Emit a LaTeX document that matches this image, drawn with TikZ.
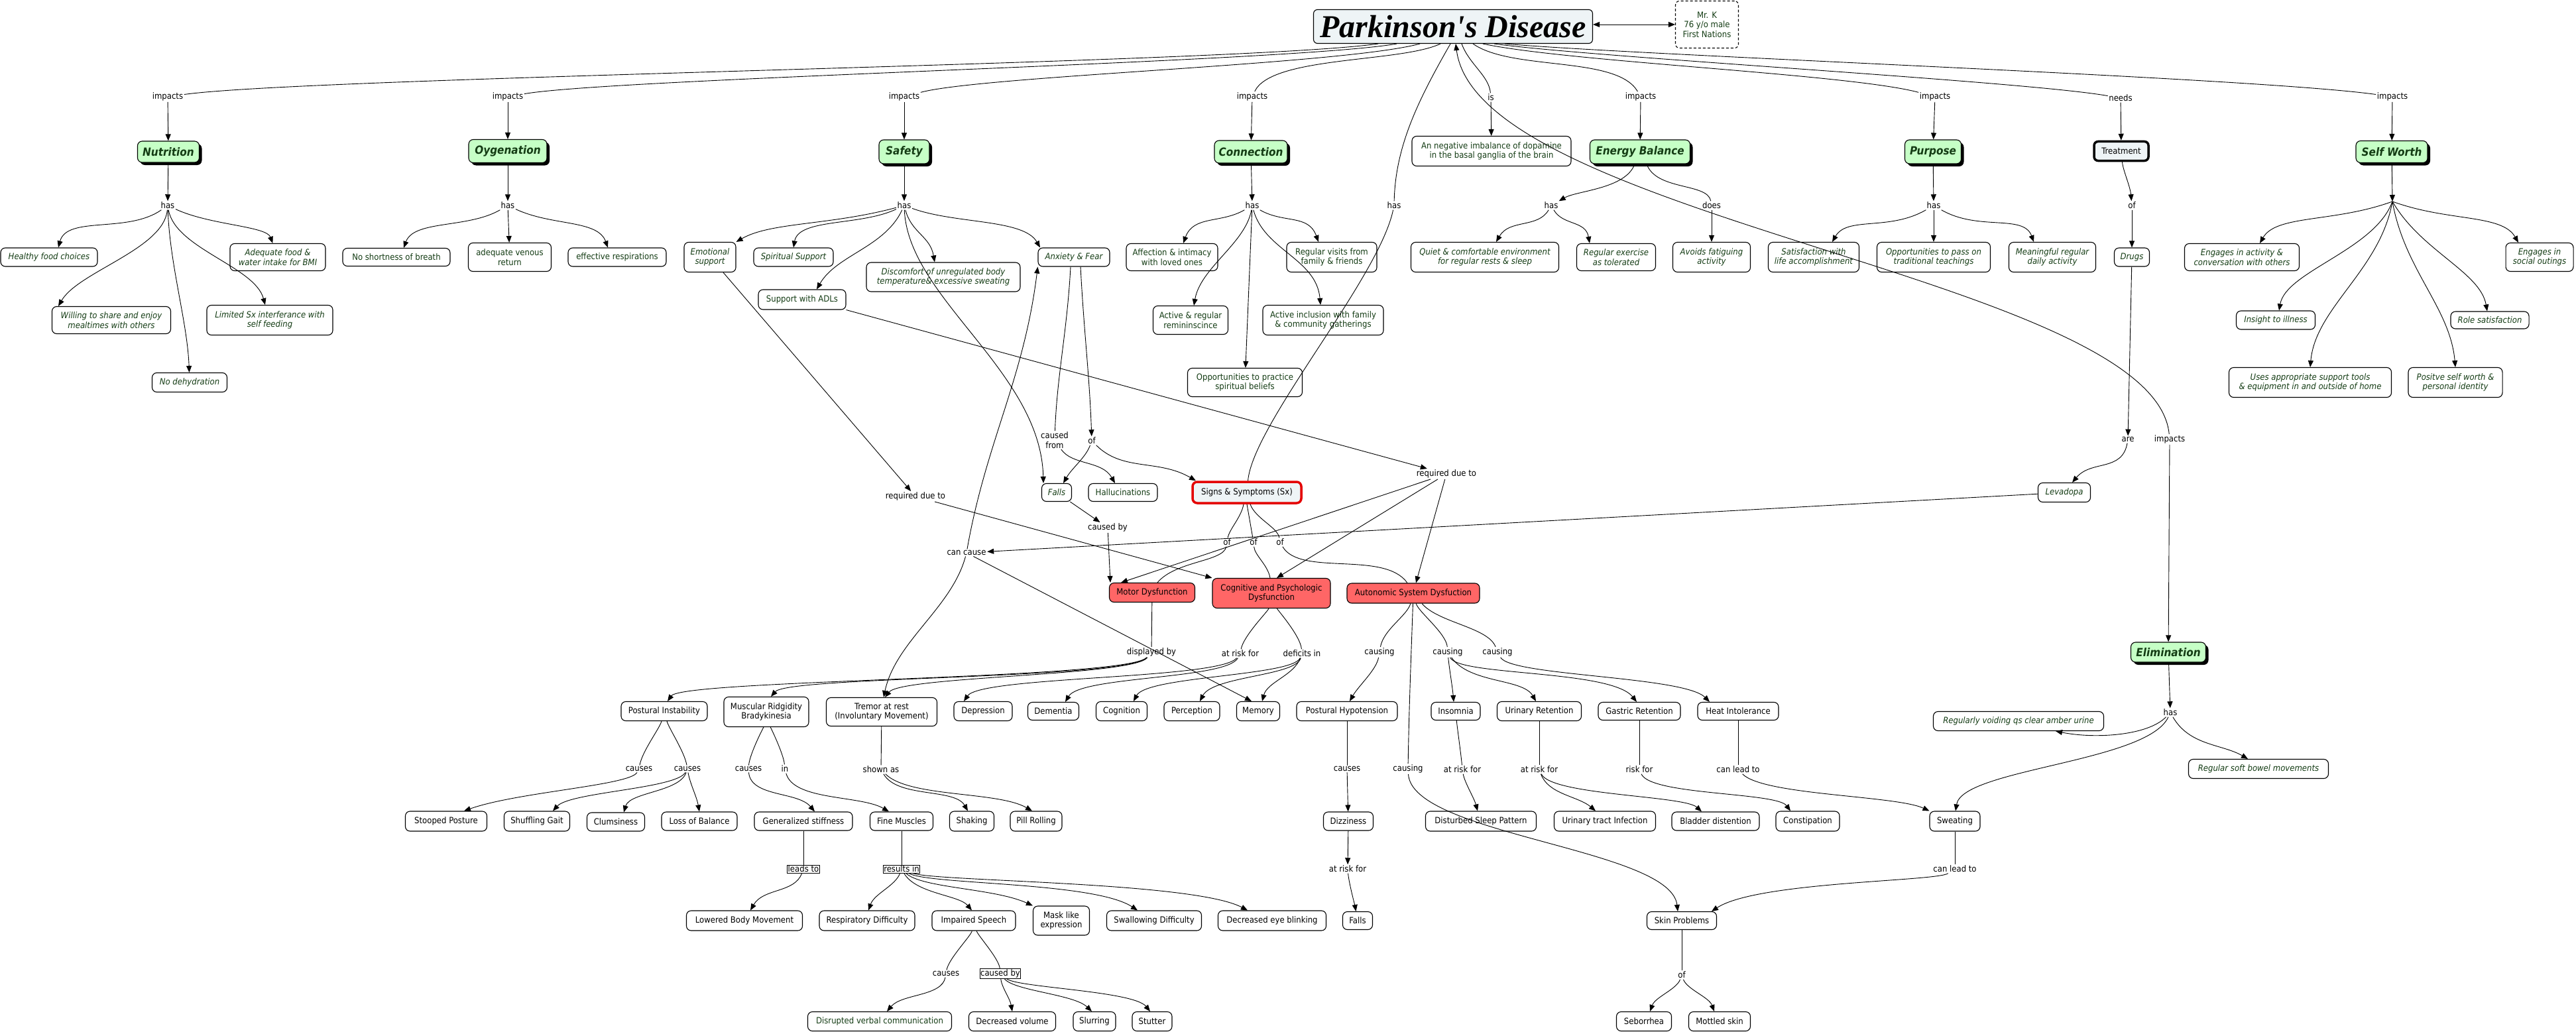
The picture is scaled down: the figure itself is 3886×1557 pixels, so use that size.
\documentclass[tikz,border=0pt]{standalone}
\usepackage{fontspec}
\IfFontExistsTF{DejaVu Sans Condensed}{\setmainfont{DejaVu Sans Condensed}[ItalicFont={DejaVu Sans Condensed Oblique},BoldFont={DejaVu Sans Condensed Bold},BoldItalicFont={DejaVu Sans Condensed Bold Oblique}]}{\setmainfont{DejaVu Sans}[FakeStretch=0.9]}
\newfontfamily\titlefont{Liberation Serif}
\usetikzlibrary{arrows.meta,shadows}
\definecolor{dkg}{RGB}{20,60,20}
\definecolor{catg}{RGB}{198,255,198}
\definecolor{pdfill}{RGB}{238,244,246}
\definecolor{dysf}{RGB}{255,102,102}
\definecolor{sxred}{RGB}{228,0,0}
\newcommand\fs{\fontsize{13pt}{14.5pt}\selectfont}
\newcommand\fcat{\fontsize{17pt}{19pt}\selectfont\bfseries\itshape}
\tikzset{
 sz/.style 2 args={minimum width=#1pt, minimum height=#2pt},
 base/.style={draw, rounded corners=7pt, line width=1.1pt, fill=white, align=center, inner sep=2pt, font=\fs},
 cg/.style={base, text=dkg},
 ci/.style={base, text=dkg, font=\fs\itshape},
 ck/.style={base, text=black},
 dys/.style={base, fill=dysf, text=black},
 cat/.style={draw, rounded corners=7pt, line width=1.1pt, fill=catg, text=dkg, font=\fcat, inner sep=2pt,
   general shadow={fill=black, shadow xshift=4pt, shadow yshift=-4pt}},
 lbl/.style={fill=white, inner sep=1.5pt, font=\fs, text=black, align=center},
 blbl/.style={lbl, draw, line width=0.9pt, inner sep=1pt},
 ln/.style={line width=0.9pt},
 arr/.style={ln, -{Triangle[length=10pt,width=8pt]}},
}
\begin{document}
\begin{tikzpicture}[x=1pt,y=-1pt]
\useasboundingbox (0,0) rectangle (3886,1557);
% ---------- title
\node[draw, rounded corners=6pt, line width=1.1pt, fill=pdfill, sz={421}{51}, inner sep=0pt] (PD) at (2192,40)
  {\titlefont\fontsize{48pt}{50pt}\selectfont\bfseries\itshape Parkinson's Disease};
\node[draw, dash pattern=on 4pt off 3pt, rounded corners=6pt, line width=1.1pt, sz={95}{71}, align=center, font=\fs, text=dkg] (mrk) at (2575,37) {Mr. K\\76 y/o male\\First Nations};
% ---------- categories
\node[cat, sz={93}{32}] (nut) at (254,229) {Nutrition};
\node[cat, sz={118}{35}] (oxy) at (766,228) {Oygenation};
\node[cat, sz={76}{36}] (saf) at (1364,229) {Safety};
\node[cat, sz={110}{34}] (con) at (1887,229) {Connection};
\node[cat, sz={151}{36}] (eng) at (2474,229) {Energy Balance};
\node[cat, sz={85}{36}] (pur) at (2916,229) {Purpose};
\node[cat, sz={108}{33}] (sw) at (3608,229) {Self Worth};
\node[cat, sz={113}{30}] (eli) at (3271,984) {Elimination};
\node[draw, rounded corners=6pt, line width=3.5pt, fill=pdfill, sz={82}{29}, font=\fs] (trt) at (3200,228) {Treatment};
\node[cg,sz={240}{45}] (imb) at (2250,228) {An negative imbalance of dopamine\\in the basal ganglia of the brain};
% ---------- row 388 etc
\node[ci,sz={146}{28}] (hfc) at (74,388) {Healthy food choices};
\node[ci,sz={144}{41}] (adq) at (419,388) {Adequate food \&\\water intake for BMI};
\node[ci,sz={179}{41}] (wil) at (168,483) {Willing to share and enjoy\\mealtimes with others};
\node[ci,sz={190}{45}] (lim) at (407,483) {Limited Sx interferance with\\self feeding};
\node[ci,sz={113}{29}] (noh) at (286,577) {No dehydration};
\node[cg,sz={162}{27}] (nsb) at (598,388) {No shortness of breath};
\node[cg,sz={125}{43}] (avr) at (769,388) {adequate venous\\return};
\node[cg,sz={148}{28}] (eff) at (931,388) {effective respirations};
\node[ci,sz={78}{45}] (emo) at (1071,388) {Emotional\\support};
\node[ci,sz={120}{28}] (spi) at (1197,388) {Spiritual Support};
\node[ci,sz={232}{44}] (dis) at (1423,418) {Discomfort of unregulated body\\temperature\& excessive sweating};
\node[cg,sz={132}{30}] (adl) at (1210,452) {Support with ADLs};
\node[ci,sz={108}{28}] (anx) at (1620,388) {Anxiety \& Fear};
\node[cg,sz={138}{41}] (aff) at (1768,388) {Affection \& intimacy\\with loved ones};
\node[cg,sz={113}{43}] (rem) at (1796,483) {Active \& regular\\remininscince};
\node[cg,sz={182}{45}] (inc) at (1996,483) {Active inclusion with family\\\& community gatherings};
\node[cg,sz={136}{45}] (vis) at (2009,388) {Regular visits from\\family \& friends};
\node[cg,sz={173}{43}] (opp) at (1878,577) {Opportunities to practice\\spiritual beliefs};
\node[ci,sz={223}{45}] (qui) at (2240,388) {Quiet \& comfortable environment\\for regular rests \& sleep};
\node[ci,sz={119}{41}] (rex) at (2438,388) {Regular exercise\\as tolerated};
\node[ci,sz={117}{45}] (avo) at (2582,388) {Avoids fatiguing\\activity};
\node[ci,sz={137}{45}] (sat) at (2736,388) {Satisfaction with\\life accomplishment};
\node[ci,sz={171}{45}] (tra) at (2917,388) {Opportunities to pass on\\traditional teachings};
\node[ci,sz={131}{45}] (mea) at (3096,388) {Meaningful regular\\daily activity};
\node[ci,sz={53}{28}] (drg) at (3216,388) {Drugs};
\node[ci,sz={173}{41}] (eac) at (3382,388) {Engages in activity \&\\conversation with others};
\node[ci,sz={102}{43}] (eso) at (3831,388) {Engages in\\social outings};
\node[ci,sz={119}{28}] (ins) at (3433,483) {Insight to illness};
\node[ci,sz={118}{26}] (rol) at (3756,483) {Role satisfaction};
\node[ci,sz={245}{45}] (use) at (3485,577) {Uses appropriate support tools\\\& equipment in and outside of home};
\node[ci,sz={142}{45}] (pos) at (3704,577) {Positve self worth \&\\personal identity};
% ---------- middle
\node[ci,sz={45}{27}] (fal1) at (1594,743) {Falls};
\node[cg,sz={104}{27}] (hal) at (1694,743) {Hallucinations};
\node[base, draw=sxred, line width=3.5pt, fill=pdfill, sz={164}{32}] (sx) at (1881,743) {Signs \& Symptoms (Sx)};
\node[ci,sz={79}{29}] (lev) at (3114,743) {Levadopa};
\node[dys,sz={129}{29}] (mot) at (1738,894) {Motor Dysfunction};
\node[dys,sz={178}{45}] (cog) at (1918,895) {Cognitive and Psychologic\\Dysfunction};
\node[dys,sz={200}{30}] (aut) at (2132,895) {Autonomic System Dysfuction};
% ---------- row 1073
\node[ck,sz={130}{29}] (pin) at (1002,1073) {Postural Instability};
\node[ck,sz={128}{45}] (mus) at (1156,1074) {Muscular Ridgidity\\Bradykinesia};
\node[ck,sz={167}{43}] (tre) at (1330,1074) {Tremor at rest\\(Involuntary Movement)};
\node[ck,sz={88}{29}] (dep) at (1483,1073) {Depression};
\node[ck,sz={77}{27}] (dem) at (1589,1073) {Dementia};
\node[ck,sz={77}{29}] (cgn) at (1692,1073) {Cognition};
\node[ck,sz={84}{29}] (per) at (1798,1073) {Perception};
\node[ck,sz={65}{29}] (mem) at (1898,1073) {Memory};
\node[ck,sz={152}{29}] (phy) at (2032,1073) {Postural Hypotension};
\node[ck,sz={74}{27}] (inso) at (2196,1073) {Insomnia};
\node[ck,sz={127}{29}] (uri) at (2322,1073) {Urinary Retention};
\node[ck,sz={124}{27}] (gas) at (2473,1073) {Gastric Retention};
\node[ck,sz={122}{27}] (hea) at (2622,1073) {Heat Intolerance};
% ---------- row 1239
\node[ck,sz={123}{30}] (stp) at (673,1239) {Stooped Posture};
\node[ck,sz={99}{30}] (shu) at (810,1239) {Shuffling Gait};
\node[ck,sz={87}{28}] (clu) at (929,1240) {Clumsiness};
\node[ck,sz={114}{28}] (lob) at (1055,1239) {Loss of Balance};
\node[ck,sz={148}{28}] (gen) at (1212,1239) {Generalized stiffness};
\node[ck,sz={95}{28}] (fin) at (1360,1239) {Fine Muscles};
\node[ck,sz={67}{30}] (shk) at (1466,1239) {Shaking};
\node[ck,sz={78}{30}] (pil) at (1563,1239) {Pill Rolling};
\node[ck,sz={75}{28}] (diz) at (2034,1239) {Dizziness};
\node[ck,sz={167}{30}] (dsp) at (2234,1239) {Disturbed Sleep Pattern};
\node[ck,sz={153}{30}] (uti) at (2421,1239) {Urinary tract Infection};
\node[ck,sz={132}{28}] (bla) at (2588,1239) {Bladder distention};
\node[ck,sz={96}{30}] (cst) at (2727,1239) {Constipation};
\node[ck,sz={76}{30}] (swe) at (2949,1239) {Sweating};
\node[ci,sz={257}{29}] (rvu) at (3045,1088) {Regularly voiding qs clear amber urine};
\node[ci,sz={211}{29}] (rsb) at (3407,1160) {Regular soft bowel movements};
% ---------- row 1389
\node[ck,sz={175}{30}] (low) at (1123,1389) {Lowered Body Movement};
\node[ck,sz={144}{30}] (res) at (1308,1389) {Respiratory Difficulty};
\node[ck,sz={126}{30}] (imp) at (1469,1389) {Impaired Speech};
\node[ck,sz={85}{44}] (mas) at (1601,1389) {Mask like\\expression};
\node[ck,sz={143}{30}] (swa) at (1741,1389) {Swallowing Difficulty};
\node[ck,sz={163}{30}] (dec) at (1919,1389) {Decreased eye blinking};
\node[ck,sz={45}{27}] (fal2) at (2048,1389) {Falls};
\node[ck,sz={105}{27}] (skn) at (2537,1389) {Skin Problems};
% ---------- row 1541
\node[cg,sz={217}{29}] (dvc) at (1327,1541) {Disrupted verbal communication};
\node[ck,sz={131}{29}] (dvo) at (1527,1541) {Decreased volume};
\node[ck,sz={64}{29}] (slu) at (1651,1541) {Slurring};
\node[ck,sz={60}{29}] (stu) at (1738,1541) {Stutter};
\node[ck,sz={83}{29}] (seb) at (2480,1541) {Seborrhea};
\node[ck,sz={93}{29}] (mtl) at (2594,1541) {Mottled skin};
% ---------- link labels
\node[lbl] (lNut) at (253,146) {impacts};
\node[lbl] (lOxy) at (766,146) {impacts};
\node[lbl] (lSaf) at (1364,146) {impacts};
\node[lbl] (lCon) at (1889,146) {impacts};
\node[lbl] (lIs) at (2249,147) {is};
\node[lbl] (lEng) at (2475,146) {impacts};
\node[lbl] (lPur) at (2919,146) {impacts};
\node[lbl] (lNeeds) at (3199,148) {needs};
\node[lbl] (lSw) at (3609,146) {impacts};
\node[lbl] (hNut) at (253,310) {has};
\node[lbl] (hOxy) at (766,310) {has};
\node[lbl] (hSaf) at (1364,310) {has};
\node[lbl] (hCon) at (1889,310) {has};
\node[lbl] (hSx) at (2103,310) {has};
\node[lbl] (hEng) at (2340,310) {has};
\node[lbl] (dEng) at (2582,310) {does};
\node[lbl] (hPur) at (2917,310) {has};
\node[lbl] (oTrt) at (3216,310) {of};
\coordinate (eSw) at (3609,304);
\node[lbl] (lAre) at (3210,663) {are};
\node[lbl] (lEli) at (3273,663) {impacts};
\node[lbl] (cfrom) at (1591,664) {caused\\from};
\node[lbl] (ofA) at (1647,665) {of};
\node[lbl] (rq1) at (1381,749) {required due to};
\node[lbl] (rq2) at (2182,715) {required due to};
\node[lbl] (cby) at (1671,796) {caused by};
\node[lbl] (ccause) at (1458,834) {can cause};
\node[lbl] (of1) at (1851,818) {of};
\node[lbl] (of2) at (1891,818) {of};
\node[lbl] (of3) at (1931,818) {of};
\node[lbl] (dby) at (1737,984) {displayed by};
\node[lbl] (ark) at (1871,986) {at risk for};
\node[lbl] (dfi) at (1964,986) {deficits in};
\node[lbl] (cs1) at (2081,984) {causing};
\node[lbl] (cs2) at (2184,984) {causing};
\node[lbl] (cs3) at (2259,984) {causing};
\node[lbl] (ca1) at (964,1160) {causes};
\node[lbl] (ca2) at (1037,1160) {causes};
\node[lbl] (ca3) at (1129,1160) {causes};
\node[lbl] (lIn) at (1184,1160) {in};
\node[lbl] (sha) at (1329,1161) {shown as};
\node[lbl] (ca4) at (2032,1160) {causes};
\node[lbl] (cs4) at (2124,1160) {causing};
\node[lbl] (ar1) at (2206,1161) {at risk for};
\node[lbl] (ar2) at (2322,1161) {at risk for};
\node[lbl] (rf) at (2473,1161) {risk for};
\node[lbl] (clt) at (2622,1161) {can lead to};
\node[lbl] (hEli) at (3274,1075) {has};
\node[blbl] (lt) at (1212,1311) {leads to};
\node[blbl] (ri) at (1360,1311) {results in};
\node[lbl] (ar3) at (2033,1311) {at risk for};
\node[lbl] (clt2) at (2949,1311) {can lead to};
\node[lbl] (ca5) at (1427,1469) {causes};
\node[blbl] (cb2) at (1509,1469) {caused by};
\node[lbl] (ofS) at (2537,1471) {of};
% ================= connectors
% from the title
\draw[ln] ([xshift=-113]PD.south) .. controls +(188:215pt) and +(8:215pt) .. (lNut);
\draw[ln] ([xshift=-85]PD.south) .. controls +(190:160pt) and +(10:160pt) .. (lOxy);
\draw[ln] ([xshift=-50]PD.south) .. controls +(195:122pt) and +(15:122pt) .. (lSaf);
\draw[ln] ([xshift=-19]PD.south) .. controls +(205:68pt) and +(65:68pt) .. (lCon);
\draw[ln] ([xshift=13]PD.south) .. controls +(-70:33pt) and +(95:33pt) .. (lIs);
\draw[ln] ([xshift=30]PD.south) .. controls +(-35:72pt) and +(120:72pt) .. (lEng);
\draw[ln] ([xshift=45]PD.south) .. controls +(-12:133pt) and +(165:133pt) .. (lPur);
\draw[ln] ([xshift=62]PD.south) .. controls +(-8:147pt) and +(170:147pt) .. (lNeeds);
\draw[ln] ([xshift=78]PD.south) .. controls +(-5:207pt) and +(172:207pt) .. (lSw);
\draw[arr] (lEli) .. controls (3250,420) and (2230,330) .. ([xshift=4]PD.south);
\draw[ln] (sx) .. controls (1890,640) and (2080,420) .. (hSx);
\draw[ln] (hSx) .. controls (2105,220) and (2140,150) .. ([xshift=-4]PD.south);
\draw[ln, {Triangle[length=10pt,width=8pt]}-{Triangle[length=10pt,width=8pt]}] ([yshift=3]PD.east) -- (mrk.west);
% label -> category
\draw[arr] (lNut) -- (nut);
\draw[arr] (lOxy) -- (oxy);
\draw[arr] (lSaf) -- (saf);
\draw[arr] (lCon) -- (con);
\draw[arr] (lIs) -- (imb);
\draw[arr] (lEng) -- (eng);
\draw[arr] (lPur) -- (pur);
\draw[arr] (lNeeds) -- (trt);
\draw[arr] (lSw) -- (sw);
\draw[arr] (lEli) -- (eli);
% category -> has
\draw[arr] (nut) -- (hNut);
\draw[arr] (oxy) -- (hOxy);
\draw[arr] (saf) -- (hSaf);
\draw[arr] (con) -- (hCon);
\draw[arr] (pur) -- (hPur);
\draw[arr] (trt) .. controls +(-85:29pt) and +(95:29pt) .. (oTrt);
\draw[arr] (sw) -- (eSw);
\draw[arr] (eli) -- (hEli);
% Nutrition
\draw[arr] (hNut) .. controls +(215:74pt) and +(75:50pt) .. ([xshift=14]hfc.north);
\draw[arr] (hNut) .. controls +(-25:70pt) and +(110:50pt) .. (adq);
\draw[arr] (hNut) .. controls +(-95:66pt) and +(60:60pt) .. ([xshift=-80]wil.north);
\draw[arr] (hNut) .. controls +(-80:66pt) and +(105:60pt) .. ([xshift=-7]lim.north);
\draw[arr] (hNut) .. controls +(-88:90pt) and +(92:90pt) .. (noh);
% Oxygenation
\draw[arr] (hOxy) .. controls +(210:70pt) and +(70:45pt) .. ([xshift=11]nsb.north);
\draw[arr] (hOxy) -- (avr);
\draw[arr] (hOxy) .. controls +(-25:74pt) and +(110:45pt) .. ([xshift=-14]eff.north);
% Safety
\draw[arr] (hSaf) .. controls +(195:117pt) and +(30:60pt) .. (emo.north east);
\draw[arr] (hSaf) .. controls +(205:74pt) and +(80:45pt) .. (spi.north);
\draw[arr] (hSaf) .. controls +(-115:70pt) and +(60:60pt) .. ([xshift=22]adl.north);
\draw[arr] (hSaf) .. controls +(-75:43pt) and +(100:40pt) .. ([xshift=-13]dis.north);
\draw[arr] (hSaf) .. controls +(-20:82pt) and +(120:50pt) .. ([xshift=-51]anx.north);
\draw[arr] (hSaf) .. controls (1370,450) and (1570,560) .. ([xshift=-20]fal1.north);
% Anxiety
\draw[ln] ([xshift=-5]anx.south) .. controls +(-93:97pt) and +(88:97pt) .. (cfrom);
\draw[arr] ([xshift=10]anx.south) .. controls +(-87:99pt) and +(92:99pt) .. (ofA);
\draw[arr] (cfrom) .. controls +(-55:47pt) and +(120:40pt) .. ([xshift=-12]hal.north);
\draw[arr] (ofA) .. controls +(-110:27pt) and +(60:27pt) .. ([xshift=10]fal1.north);
\draw[arr] (ofA) .. controls +(-45:66pt) and +(150:66pt) .. ([xshift=-77]sx.north);
% required due to
\draw[arr] ([xshift=20]emo.south) -- (rq1);
\draw[arr] (rq1) -- (cog.north west);
\draw[arr] (adl.south east) -- (rq2);
\draw[arr] (rq2) -- ([xshift=-47]mot.north);
\draw[arr] (rq2) -- ([xshift=8]cog.north);
\draw[arr] (rq2) -- ([xshift=4]aut.north);
% falls, levadopa
\draw[arr] (fal1) -- (cby);
\draw[arr] (cby) -- ([xshift=-63]mot.north);
\draw[arr] (lev) -- (ccause);
\draw[arr] (ccause) .. controls +(80:170pt) and +(-97:170pt) .. (anx.south west);
\draw[arr] (ccause) .. controls +(-105:86pt) and +(78:86pt) .. ([xshift=3]tre.north);
\draw[arr] (ccause) -- ([xshift=-10]mem.north);
% signs & symptoms
\draw[ln] ([xshift=-5]sx.south) .. controls +(-100:20pt) and +(80:20pt) .. (of1);
\draw[ln] (of1) .. controls +(-100:30pt) and +(50:43pt) .. ([xshift=8]mot.north);
\draw[ln] (sx.south) -- (of2);
\draw[ln] (of2) .. controls +(-85:20pt) and +(100:20pt) .. ([xshift=-2]cog.north);
\draw[ln] ([xshift=5]sx.south) .. controls +(-70:23pt) and +(100:23pt) .. (of3);
\draw[ln] (of3) .. controls +(-60:60pt) and +(125:60pt) .. ([xshift=-9]aut.north);
% Connection
\draw[arr] (hCon) .. controls +(210:55pt) and +(70:45pt) .. ([xshift=17]aff.north);
\draw[arr] (hCon) .. controls +(-100:58pt) and +(80:58pt) .. ([xshift=5]rem.north);
\draw[arr] (hCon) .. controls +(-30:55pt) and +(110:45pt) .. ([xshift=-20]vis.north);
\draw[arr] (hCon) .. controls +(-75:70pt) and +(95:70pt) .. ([xshift=-4]inc.north);
\draw[arr] (hCon) -- (opp);
% Energy
\draw[arr] ([xshift=-8]eng.south) .. controls +(-110:40pt) and +(30:45pt) .. (hEng);
\draw[arr] (hEng) .. controls +(-120:40pt) and +(60:40pt) .. ([xshift=17]qui.north);
\draw[arr] (hEng) .. controls +(-60:35pt) and +(100:35pt) .. ([xshift=-40]rex.north);
\draw[ln] ([xshift=10]eng.south) .. controls +(-70:43pt) and +(100:35pt) .. (dEng);
\draw[arr] (dEng) -- (avo);
% Purpose
\draw[arr] (hPur) .. controls +(210:78pt) and +(60:45pt) .. ([xshift=28]sat.north);
\draw[arr] (hPur) -- (tra);
\draw[arr] (hPur) .. controls +(-30:78pt) and +(110:45pt) .. ([xshift=-28]mea.north);
% Treatment
\draw[arr] (oTrt) -- (drg);
\draw[arr] (drg) -- (lAre);
\draw[arr] (lAre) .. controls +(-100:50pt) and +(50:45pt) .. ([xshift=12]lev.north);
% Self worth
\draw[arr] (eSw) .. controls +(200:94pt) and +(60:50pt) .. ([xshift=27]eac.north);
\draw[arr] (eSw) .. controls +(-110:78pt) and +(80:60pt) .. ([xshift=5]ins.north);
\draw[arr] (eSw) .. controls +(-100:105pt) and +(85:90pt) .. (use.north);
\draw[arr] (eSw) .. controls +(-80:105pt) and +(95:90pt) .. (pos.north);
\draw[arr] (eSw) .. controls +(-60:86pt) and +(100:60pt) .. ([xshift=-4]rol.north);
\draw[arr] (eSw) .. controls +(-20:90pt) and +(120:50pt) .. ([xshift=-32]eso.north);
% Motor
\draw[ln] (mot) -- (dby);
\draw[arr] (dby) .. controls (1700,1025) and (1030,1025) .. ([xshift=5]pin.north);
\draw[arr] (dby) .. controls (1700,1025) and (1190,1020) .. ([xshift=7]mus.north);
\draw[arr] (dby) .. controls (1710,1020) and (1360,1020) .. ([xshift=5]tre.north);
% Cognitive
\draw[ln] (cog) .. controls +(-100:27pt) and +(80:27pt) .. (ark);
\draw[arr] (ark) .. controls (1840,1025) and (1480,1020) .. ([xshift=-29]dep.north);
\draw[arr] (ark) .. controls (1850,1025) and (1630,1020) .. ([xshift=18]dem.north);
\draw[ln] (cog) .. controls +(-70:27pt) and +(95:27pt) .. (dfi);
\draw[arr] (dfi) .. controls (1950,1020) and (1730,1020) .. ([xshift=18]cgn.north);
\draw[arr] (dfi) .. controls (1955,1020) and (1830,1020) .. ([xshift=12]per.north);
\draw[arr] (dfi) .. controls +(-110:35pt) and +(75:30pt) .. ([xshift=6]mem.north);
% Autonomic
\draw[ln] (aut) .. controls +(-105:35pt) and +(80:35pt) .. (cs1);
\draw[arr] (cs1) .. controls +(-100:27pt) and +(60:27pt) .. ([xshift=4]phy.north);
\draw[ln] (aut) .. controls +(-92:97pt) and +(89:97pt) .. (cs4);
\draw[arr] (cs4) .. controls (2130,1260) and (2520,1280) .. ([xshift=-6]skn.north);
\draw[ln] (aut) .. controls +(-75:29pt) and +(95:29pt) .. (cs2);
\draw[arr] (cs2) .. controls +(-85:23pt) and +(95:23pt) .. ([xshift=-3]inso.north);
\draw[arr] (cs2) .. controls +(-55:58pt) and +(120:40pt) .. ([xshift=-5]uri.north);
\draw[arr] (cs2) .. controls (2200,1020) and (2430,1010) .. ([xshift=-4]gas.north);
\draw[ln] (aut) .. controls +(-50:58pt) and +(110:40pt) .. (cs3);
\draw[arr] (cs3) .. controls (2280,1020) and (2540,1020) .. ([xshift=-43]hea.north);
% Postural instability
\draw[ln] (pin) .. controls +(-105:27pt) and +(80:27pt) .. (ca1);
\draw[ln] (pin) .. controls +(-75:27pt) and +(100:27pt) .. (ca2);
\draw[arr] (ca1) .. controls (950,1185) and (780,1195) .. ([xshift=27]stp.north);
\draw[arr] (ca2) .. controls (1020,1190) and (860,1195) .. ([xshift=24]shu.north);
\draw[arr] (ca2) .. controls (1025,1195) and (950,1195) .. ([xshift=12]clu.north);
\draw[arr] (ca2) .. controls +(-80:23pt) and +(100:23pt) .. (lob.north);
% Muscular / tremor
\draw[ln] (mus) .. controls +(-100:23pt) and +(85:23pt) .. (ca3);
\draw[ln] (mus) .. controls +(-75:23pt) and +(95:23pt) .. (lIn);
\draw[arr] (ca3) .. controls +(-85:43pt) and +(130:40pt) .. ([xshift=17]gen.north);
\draw[arr] (lIn) .. controls +(-75:50pt) and +(150:50pt) .. ([xshift=-19]fin.north);
\draw[ln] (tre) -- (sha);
\draw[arr] (sha) .. controls +(-60:50pt) and +(120:40pt) .. ([xshift=-6]shk.north);
\draw[arr] (sha) .. controls +(-45:60pt) and +(150:60pt) .. ([xshift=-6]pil.north);
\draw[ln] (gen) -- (lt);
\draw[arr] (lt) .. controls +(-110:39pt) and +(60:39pt) .. ([xshift=9]low.north);
\draw[ln] (fin) -- (ri);
\draw[arr] (ri) .. controls +(-110:27pt) and +(70:27pt) .. ([xshift=2]res.north);
\draw[arr] (ri) .. controls +(-60:43pt) and +(130:30pt) .. ([xshift=-3]imp.north);
\draw[arr] (ri) .. controls (1390,1340) and (1500,1340) .. (mas.north west);
\draw[arr] (ri) .. controls (1400,1335) and (1650,1330) .. ([xshift=-25]swa.north);
\draw[arr] (ri) .. controls (1410,1330) and (1800,1330) .. ([xshift=-37]dec.north);
\draw[ln] (imp) .. controls +(-100:23pt) and +(80:23pt) .. (ca5);
\draw[ln] (imp) .. controls +(-75:23pt) and +(95:23pt) .. (cb2);
\draw[arr] (ca5) .. controls +(-100:35pt) and +(50:35pt) .. ([xshift=11]dvc.north);
\draw[arr] (cb2) .. controls +(-85:20pt) and +(100:20pt) .. (dvo.north);
\draw[arr] (cb2) .. controls (1530,1495) and (1620,1500) .. ([xshift=-4]slu.north);
\draw[arr] (cb2) .. controls (1535,1490) and (1710,1495) .. ([xshift=-3]stu.north);
% Hypotension etc.
\draw[ln] (phy) -- (ca4);
\draw[arr] (ca4) -- (diz);
\draw[arr] (diz) -- (ar3);
\draw[arr] (ar3) .. controls +(-85:21pt) and +(100:21pt) .. (fal2);
\draw[ln] (inso) .. controls +(-85:23pt) and +(95:23pt) .. (ar1);
\draw[arr] (ar1) .. controls +(-80:20pt) and +(105:20pt) .. ([xshift=-5]dsp.north);
\draw[ln] (uri) -- (ar2);
\draw[arr] (ar2) .. controls +(-70:40pt) and +(140:35pt) .. ([xshift=-14]uti.north);
\draw[arr] (ar2) .. controls (2340,1200) and (2540,1200) .. ([xshift=-21]bla.north);
\draw[ln] (gas) -- (rf);
\draw[arr] (rf) .. controls (2490,1200) and (2680,1195) .. ([xshift=-26]cst.north);
\draw[ln] (hea) -- (clt);
\draw[arr] (clt) .. controls (2660,1200) and (2860,1200) .. (swe.north west);
\draw[ln] (swe) -- (clt2);
\draw[arr] (clt2) .. controls (2920,1330) and (2650,1330) .. ([xshift=45]skn.north);
\draw[ln] (skn) -- (ofS);
\draw[arr] (ofS) .. controls +(-110:23pt) and +(70:23pt) .. ([xshift=9]seb.north);
\draw[arr] (ofS) .. controls +(-70:23pt) and +(110:23pt) .. ([xshift=-8]mtl.north);
% Elimination
\draw[arr] (hEli) .. controls (3240,1110) and (3160,1115) .. ([xshift=56]rvu.south);
\draw[arr] (hEli) .. controls +(-60:58pt) and +(150:45pt) .. ([xshift=-16]rsb.north);
\draw[arr] (hEli) .. controls (3240,1150) and (2960,1160) .. ([xshift=1]swe.north);
\end{tikzpicture}
\end{document}
